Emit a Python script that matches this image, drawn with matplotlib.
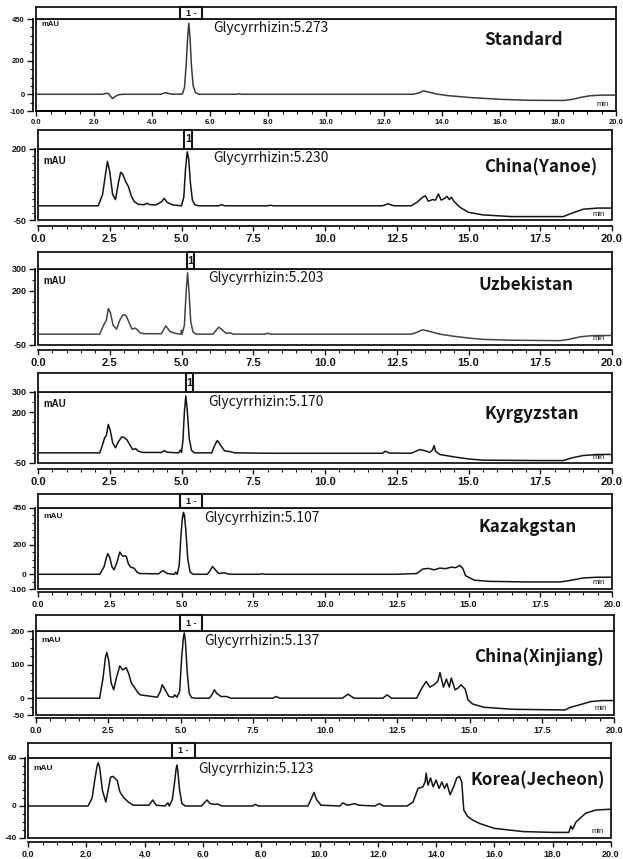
import numpy as np
import matplotlib
matplotlib.use("Agg")
import matplotlib.pyplot as plt
from matplotlib.patches import Rectangle
from matplotlib.ticker import MultipleLocator

W, H, DPI = 623, 859, 100

# ---------------- data ----------------
samples = ["Standard", "China(Yanoe)", "Uzbekistan", "Kyrgyzstan",
           "Kazakgstan", "China(Xinjiang)", "Korea(Jecheon)"]
rt_labels = ["5.273", "5.230", "5.203", "5.170", "5.107", "5.137", "5.123"]
header_marks = ["1 -", "1", "1", "1", "1 -", "1 -", "1 -"]

t_standard = [0.0, 2.3, 2.42, 2.5, 2.57, 2.64, 2.72, 2.85, 3.0, 4.3, 4.42, 4.5, 4.6, 4.75,
              5.05, 5.12, 5.18, 5.23, 5.27, 5.31, 5.36, 5.42, 5.5, 5.62, 6.9, 7.0, 7.1, 9.0,
              13.0, 13.2, 13.35, 13.5, 13.8, 14.2, 14.6, 15.0, 15.5, 16.0, 17.0, 18.2, 18.5,
              18.8, 19.1, 19.5, 20.0]
v_standard = [0, 0, 6, 4, -12, -26, -14, -3, 0, 0, 7, 9, 3, 0,
              2, 40, 180, 340, 425, 340, 170, 50, 10, 0, 0, 3, 0, 0,
              0, 8, 20, 15, 2, -8, -14, -20, -25, -30, -36, -37, -30,
              -18, -9, -5, -5]

t_yanoe = [0.0, 2.1, 2.25, 2.35, 2.42, 2.5, 2.6, 2.7, 2.8, 2.88,
           2.95, 3.05, 3.15, 3.25, 3.35, 3.5, 3.7, 3.8, 3.9, 4.1,
           4.2, 4.3, 4.4, 4.5, 4.7, 5.0, 5.08, 5.14, 5.2, 5.25,
           5.31, 5.38, 5.46, 5.6, 6.3, 6.4, 6.5, 8.0, 8.1, 8.2,
           12.0, 12.2, 12.4, 13.0, 13.2, 13.4, 13.5, 13.6, 13.75, 13.85,
           13.95, 14.05, 14.15, 14.25, 14.33, 14.4, 14.5, 14.7, 15.0, 15.5,
           16.5, 18.3, 18.6, 19.0, 19.5, 20.0]
v_yanoe = [0, 0, 40, 110, 156, 120, 40, 22, 80, 118,
           112, 86, 68, 35, 15, 5, 4, 9, 4, 3,
           8, 14, 26, 12, 3, 0, 30, 130, 190, 165,
           80, 20, 4, 0, 0, 4, 0, 0, 2, 0,
           0, 7, 0, 0, 12, 30, 35, 16, 22, 20,
           42, 20, 25, 33, 22, 30, 15, -5, -23, -32,
           -38, -38, -26, -12, -8, -8]

t_uzbek = [0.0, 2.15, 2.3, 2.38, 2.45, 2.52, 2.62, 2.74, 2.85, 2.97,
           3.07, 3.17, 3.28, 3.38, 3.45, 3.55, 3.7, 4.3, 4.45, 4.6,
           4.8, 4.98, 5.0, 5.02, 5.1, 5.16, 5.21, 5.26, 5.32, 5.4,
           5.5, 6.1, 6.22, 6.3, 6.4, 6.55, 6.7, 6.8, 7.9, 8.0,
           8.1, 13.0, 13.2, 13.4, 13.6, 14.0, 14.5, 15.0, 15.5, 16.5,
           18.2, 18.5, 18.9, 19.3, 20.0]
v_uzbek = [0, 0, 45, 62, 118, 100, 40, 23, 65, 90,
           85, 55, 23, 28, 22, 6, 2, 2, 38, 12,
           3, 0, 18, 0, 40, 190, 282, 200, 60, 10,
           0, 0, 20, 32, 22, 4, 6, 0, 0, 4,
           0, 0, 8, 20, 14, 0, -10, -18, -24, -28,
           -30, -24, -12, -7, -6]

t_kyrgyz = [0.0, 2.15, 2.25, 2.32, 2.38, 2.45, 2.52, 2.6, 2.7, 2.8,
            2.92, 3.0, 3.1, 3.2, 3.3, 3.4, 3.5, 3.65, 4.3, 4.4,
            4.5, 4.9, 4.97, 5.0, 5.05, 5.1, 5.15, 5.2, 5.27, 5.35,
            5.45, 6.05, 6.15, 6.25, 6.35, 6.5, 6.7, 6.85, 8.0, 12.0,
            12.1, 12.25, 13.0, 13.3, 13.45, 13.65, 13.75, 13.8, 13.85, 14.0,
            14.5, 15.0, 15.5, 17.5, 18.3, 18.6, 19.0, 19.5, 20.0]
v_kyrgyz = [0, 0, 40, 74, 85, 140, 110, 50, 25, 55,
            79, 76, 64, 40, 16, 21, 8, 2, 2, 11,
            3, 0, 15, 2, 60, 200, 281, 210, 70, 12,
            0, 0, 35, 61, 40, 10, 6, 0, -2, -2,
            8, -1, -2, 16, 12, 2, 15, 36, 8, -8,
            -20, -30, -36, -38, -38, -25, -13, -8, -8]

t_kazak = [0.0, 2.15, 2.3, 2.38, 2.43, 2.5, 2.58, 2.65, 2.75, 2.85,
           2.92, 2.97, 3.03, 3.08, 3.15, 3.23, 3.35, 3.45, 3.55, 4.2,
           4.35, 4.5, 4.75, 4.8, 4.85, 4.92, 4.98, 5.03, 5.07, 5.08,
           5.1, 5.15, 5.22, 5.3, 5.4, 5.9, 6.0, 6.08, 6.18, 6.3,
           6.5, 6.6, 6.75, 7.7, 7.8, 7.9, 12.5, 13.2, 13.4, 13.6,
           13.8, 14.0, 14.2, 14.4, 14.55, 14.7, 14.8, 14.9, 15.2, 15.7,
           17.0, 18.2, 18.6, 19.0, 19.5, 20.0]
v_kazak = [0, 0, 50, 110, 140, 115, 50, 30, 80, 151,
           130, 122, 126, 120, 70, 48, 41, 15, 5, 3,
           25, 5, 0, 15, 0, 60, 260, 380, 420, 395,
           405, 300, 100, 15, 0, 0, 25, 53, 30, 5,
           10, 3, 0, 0, 3, 0, 0, 5, 35, 40,
           30, 42, 38, 48, 45, 60, 40, -10, -40, -48,
           -52, -52, -40, -25, -20, -20]

t_xinjiang = [0.0, 2.2, 2.32, 2.4, 2.45, 2.52, 2.6, 2.69, 2.78, 2.9,
              3.0, 3.12, 3.2, 3.3, 3.4, 3.5, 3.6, 4.2, 4.3, 4.37,
              4.45, 4.6, 4.75, 4.8, 4.88, 4.97, 5.04, 5.1, 5.13, 5.17,
              5.23, 5.3, 5.38, 5.5, 6.0, 6.1, 6.17, 6.25, 6.4, 6.6,
              6.75, 8.2, 8.3, 8.45, 10.6, 10.8, 11.0, 12.0, 12.15, 12.3,
              13.17, 13.35, 13.5, 13.63, 13.77, 13.9, 13.98, 14.05, 14.1, 14.2,
              14.3, 14.37, 14.5, 14.6, 14.71, 14.85, 14.95, 15.1, 15.5, 16.5,
              18.3, 18.5, 18.8, 19.2, 19.6, 20.0]
v_xinjiang = [0, 0, 60, 120, 136, 110, 45, 25, 60, 96,
              84, 91, 75, 45, 33, 20, 10, 3, 20, 40,
              28, 5, 3, 10, 3, 20, 120, 180, 194, 170,
              80, 15, 2, 0, 0, 12, 25, 15, 5, 5,
              0, 0, 5, 0, 0, 12, 0, 0, 10, 0,
              0, 30, 50, 33, 40, 50, 76, 50, 33, 57,
              33, 60, 25, 30, 40, 27, -5, -17, -27, -33,
              -35, -27, -20, -10, -7, -7]

t_korea = [0.0, 2.06, 2.2, 2.3, 2.37, 2.41, 2.46, 2.55, 2.67, 2.75,
           2.83, 2.92, 3.0, 3.06, 3.15, 3.27, 3.44, 3.61, 4.15, 4.28,
           4.4, 4.7, 4.8, 4.85, 4.95, 5.03, 5.08, 5.11, 5.14, 5.2,
           5.28, 5.4, 5.95, 6.05, 6.14, 6.25, 6.4, 6.5, 6.65, 7.7,
           7.8, 7.9, 9.6, 9.73, 9.81, 9.9, 10.05, 10.7, 10.8, 10.95,
           11.1, 11.2, 11.35, 11.9, 12.05, 12.2, 13.0, 13.21, 13.38, 13.55,
           13.62, 13.66, 13.72, 13.81, 13.9, 14.0, 14.1, 14.2, 14.29, 14.37,
           14.48, 14.6, 14.71, 14.8, 14.88, 14.95, 15.08, 15.25, 15.5, 16.0,
           17.0, 18.0, 18.55, 18.62, 18.68, 18.8, 19.13, 19.48, 20.0]
v_korea = [0, 0, 10, 35, 50, 54, 48, 20, 5, 20,
           36, 37, 34, 32, 18, 11, 5, 1, 1, 7.5,
           1, 0, 4, 0, 8, 30, 46, 51, 44, 20,
           3, 0, 0, 4, 7.5, 3, 2, 2.5, 0, 0,
           2, 0, 0, 10, 17, 8, 1, 0, 4, 1,
           2, 3, 1, 0, 3, 0, 0, 5, 22, 24,
           30, 41, 26, 35, 24, 32.5, 22, 30, 22, 28,
           14, 24, 35, 37, 30, -5, -13, -17.5, -22, -28,
           -32, -33, -33, -25, -29, -20, -9, -5, -4]

times = [t_standard, t_yanoe, t_uzbek, t_kyrgyz, t_kazak, t_xinjiang, t_korea]
values = [v_standard, v_yanoe, v_uzbek, v_kyrgyz, v_kazak, v_xinjiang, v_korea]

ylims = [(-100, 450), (-50, 200), (-50, 300), (-50, 300), (-100, 450), (-50, 200), (-40, 60)]
yticks = [[450, 200, 0, -100], [200, -50], [300, 200, -50], [300, 200, -50],
          [450, 200, 0, -100], [200, 100, 0, -50], [60, 0, -40]]
yminor = [50, 25, 50, 50, 50, 25, 10]
xsteps = [2.0, 2.5, 2.5, 2.5, 2.5, 2.5, 2.0]
header_box = [(4.97, 5.72), (5.09, 5.37), (5.19, 5.44), (5.16, 5.40),
              (4.95, 5.71), (4.98, 5.74), (4.95, 5.74)]

# ---------------- layout (pixels) ----------------
layout = [(36, 616, 7, 19, 111, 0),
          (38, 612, 130, 149, 220, 6),
          (38, 612, 252, 269, 345, 5),
          (38, 612, 373, 392, 463, 6),
          (38, 612, 494, 508, 589, 3),
          (36, 614, 615, 631, 715, 3),
          (28, 611, 743, 758, 838, 4)]
gly_pos = [(213, 32), (213, 162), (208, 282), (208, 406), (204, 522), (204, 645), (198, 773)]
name_pos = [(484, 45), (484, 172), (478, 290), (484, 419), (478, 532), (474, 662), (470, 785)]
mau_off = [6, 12, 12, 12, 9, 9, 10]
xtick_fs = [5.5, 8, 8, 8, 6.5, 6.5, 6.5]
ytick_fs = [5.5, 6.5, 6.5, 6.5, 6, 6, 6]
mau_fs = [5.5, 7, 7, 7, 6, 6, 6]
trace_col = ["#3a3a3a", "#151515", "#444444", "#151515", "#151515", "#151515", "#151515"]

PT = 72.0 / DPI
INK = "#151515"
TXT_FAM = ["Noto Sans CJK KR", "DejaVu Sans"]

fig = plt.figure(figsize=(W / DPI, H / DPI), dpi=DPI)
fig.patch.set_facecolor("white")

for i in range(7):
    L, R, FT, HL, B, xoff = layout[i]
    ax = fig.add_axes([L / W, 1 - B / H, (R - L) / W, (B - HL) / H])
    ax.plot(times[i], values[i], color=trace_col[i], lw=1.1, solid_joinstyle="round")
    ax.set_xlim(0, 20)
    ax.set_ylim(*ylims[i])
    ax.patch.set_alpha(0)
    for s in ["top", "right"]:
        ax.spines[s].set_visible(False)
    ax.spines["left"].set_position(("outward", 3.5 * PT))
    ax.spines["bottom"].set_position(("outward", xoff * PT))
    ax.spines["left"].set_linewidth(1.2)
    ax.spines["bottom"].set_linewidth(1.2)
    ax.add_patch(Rectangle((0, 0), 1, 1, transform=ax.transAxes, fill=False,
                           lw=1.3, ec=INK, clip_on=False))
    step = xsteps[i]
    xt = np.arange(0, 20.001, step)
    ax.set_xticks(xt)
    ax.set_xticklabels([f"{v:.1f}" for v in xt])
    ax.xaxis.set_minor_locator(MultipleLocator(0.5))
    ax.set_yticks(yticks[i])
    ax.set_yticklabels([str(v) for v in yticks[i]])
    ax.yaxis.set_minor_locator(MultipleLocator(yminor[i]))
    ax.tick_params(axis="x", which="major", length=3.5, width=1.0,
                   labelsize=xtick_fs[i], pad=2, colors=INK)
    ax.tick_params(axis="x", which="minor", length=2.5, width=0.8, colors=INK)
    ax.tick_params(axis="y", which="major", length=4, width=1.0,
                   labelsize=ytick_fs[i], pad=1.5, colors=INK)
    ax.tick_params(axis="y", which="minor", length=2.5, width=0.8, colors=INK)
    for lab in ax.get_xticklabels() + ax.get_yticklabels():
        lab.set_fontfamily("Liberation Sans")
        lab.set_fontweight("bold")

    # header strip
    hx = fig.add_axes([L / W, 1 - HL / H, (R - L) / W, (HL - FT) / H])
    hx.set_xlim(0, 20)
    hx.set_ylim(0, 1)
    hx.set_xticks([])
    hx.set_yticks([])
    for s in hx.spines.values():
        s.set_linewidth(1.3)
        s.set_color(INK)
    b0, b1 = header_box[i]
    hx.add_patch(Rectangle((b0, 0), b1 - b0, 1, fill=False, lw=1.5, ec=INK, clip_on=False))
    hx.text((b0 + b1) / 2, 0.5, header_marks[i], ha="center", va="center",
            fontsize=6.5 if header_marks[i] != "1" else 8, fontweight="bold",
            family="Liberation Sans", color=INK)

    fig.text((L + 5) / W, 1 - (HL + mau_off[i]) / H, "mAU", fontsize=mau_fs[i],
             fontweight="bold", va="center", ha="left", family="Liberation Sans", color=INK)
    ax.text(0.988, 0.035, "min", transform=ax.transAxes, ha="right", va="bottom",
            fontsize=5.5, family="Liberation Sans", color=INK)

    gx, gy = gly_pos[i]
    fig.text(gx / W, 1 - gy / H, "Glycyrrhizin:" + rt_labels[i], fontsize=10,
             va="baseline", ha="left", family=TXT_FAM, color=INK)
    nx, ny = name_pos[i]
    fig.text(nx / W, 1 - ny / H, samples[i], fontsize=12.3, fontweight="bold",
             va="baseline", ha="left", family=TXT_FAM, color=INK)

fig.savefig("out.png", dpi=DPI, facecolor="white")
